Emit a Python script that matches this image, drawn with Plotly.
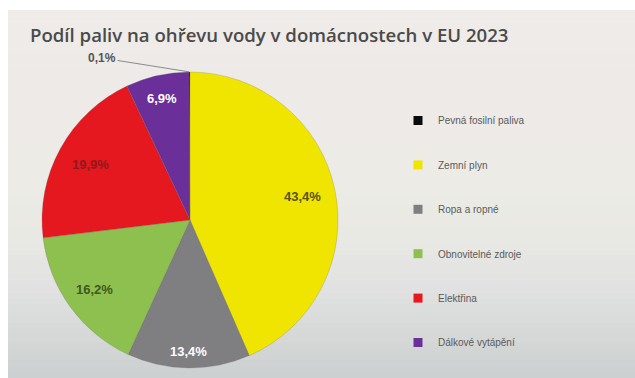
import math
import plotly.graph_objects as go

# Share of fuels used for water heating in EU households, 2023 (%)
categories = [
    "Pevná fosilní paliva",
    "Zemní plyn",
    "Ropa a ropné",
    "Obnovitelné zdroje",
    "Elektřina",
    "Dálkové vytápění",
]
shares = [0.1, 43.4, 13.4, 16.2, 19.9, 6.9]

slice_colors = ["#0a0a0a", "#f0e500", "#7f7e80", "#8dc04f", "#e5171f", "#6a2f98"]
label_colors = ["#555555", "#5a5315", "#ffffff", "#3e5a1c", "#8e1b1b", "#ffffff"]
# how far out (fraction of radius) each slice label sits
label_radius = [None, 0.78, 0.89, 0.80, 0.77, 0.84]

W, H = 635, 378
FONT = "Liberation Sans"

labels_txt = [f"{v:.1f}%".replace(".", ",") for v in shares]

# pie placement in pixels -> paper fractions
PIE_L, PIE_R, PIE_T, PIE_B = 42, 338, 72, 368
dom_x = [PIE_L / W, PIE_R / W]
dom_y = [(H - PIE_B) / H, (H - PIE_T) / H]
cx_px, cy_px = (PIE_L + PIE_R) / 2, (PIE_T + PIE_B) / 2
r_px = (PIE_R - PIE_L) / 2

total = sum(shares)
rotation = -360.0 * shares[0] / total  # first (tiny) slice ends at 12 o'clock

fig = go.Figure()

fig.add_trace(go.Pie(
    labels=categories,
    values=shares,
    sort=False,
    direction="clockwise",
    rotation=rotation,
    marker=dict(colors=slice_colors, line=dict(color="rgba(90,90,90,0.35)", width=0.6)),
    textinfo="none",
    domain=dict(x=dom_x, y=dom_y),
    showlegend=False,
    hovertemplate="%{label}: %{value:.1f} %<extra></extra>",
))

# percentage labels placed along each slice's bisector
start = rotation
for v, txt, col, rf in zip(shares, labels_txt, label_colors, label_radius):
    sweep = 360.0 * v / total
    mid = math.radians(start + sweep / 2)
    start += sweep
    if rf is None:
        # smallest slice: label off to the side with a leader line
        fig.add_annotation(
            x=cx_px / W, y=1 - PIE_T / H, xref="paper", yref="paper",
            text=txt, showarrow=True, arrowhead=0, arrowwidth=1,
            arrowcolor="#8a8a8a", ax=-88, ay=-14, standoff=1,
            font=dict(family=FONT, size=12, color=col, weight="bold"),
        )
        continue
    px = cx_px + rf * r_px * math.sin(mid)
    py = cy_px - rf * r_px * math.cos(mid)
    fig.add_annotation(
        x=px / W, y=1 - py / H, xref="paper", yref="paper",
        text=txt, showarrow=False, xanchor="center", yanchor="middle",
        font=dict(family=FONT, size=13, color=col, weight="bold"),
    )

# legend entries, one group each so the rows can be spaced out
for name, col in zip(categories, slice_colors):
    fig.add_trace(go.Scatter(
        x=[None], y=[None], mode="markers", name=name, legendgroup=name,
        marker=dict(symbol="square", size=9, color=col),
        hoverinfo="skip",
    ))

# soft vertical background gradient
stops = [
    (0.00, (239, 235, 232)),
    (0.25, (238, 234, 231)),
    (0.48, (236, 235, 230)),
    (0.60, (233, 233, 228)),
    (0.72, (227, 228, 226)),
    (0.85, (217, 219, 218)),
    (1.00, (203, 207, 207)),
]


def grad(t):
    for (t0, c0), (t1, c1) in zip(stops, stops[1:]):
        if t <= t1:
            f = (t - t0) / (t1 - t0)
            return "rgb(%d,%d,%d)" % tuple(round(a + (b - a) * f) for a, b in zip(c0, c1))
    return "rgb(%d,%d,%d)" % stops[-1][1]


top_px, left_px = 10, 8
n_bands = 60
band_h = (H - top_px) / n_bands
shapes = []
for i in range(n_bands):
    y0_px = top_px + i * band_h
    y1_px = y0_px + band_h + 0.6
    shapes.append(dict(
        type="rect", xref="paper", yref="paper", layer="below",
        x0=left_px / W, x1=1, y0=1 - min(y1_px, H) / H, y1=1 - y0_px / H,
        fillcolor=grad((i + 0.5) / n_bands), line=dict(width=0),
    ))

fig.update_layout(
    width=W, height=H,
    margin=dict(l=0, r=0, t=0, b=0),
    paper_bgcolor="white",
    plot_bgcolor="rgba(0,0,0,0)",
    shapes=shapes,
    title=dict(
        text="Podíl paliv na ohřevu vody v domácnostech v EU 2023",
        x=30 / W, xanchor="left", y=1 - 35 / H, yanchor="middle",
        font=dict(family="Open Sans", size=18.6, color="#4a4a4a", weight=600),
    ),
    xaxis=dict(visible=False),
    yaxis=dict(visible=False),
    legend=dict(
        x=398 / W, xanchor="left", y=1 - 106 / H, yanchor="top",
        bgcolor="rgba(0,0,0,0)", tracegroupgap=25.4, itemwidth=30,
        font=dict(family=FONT, size=10, color="#5a5a5a"),
    ),
)

fig.write_html("out.html")
